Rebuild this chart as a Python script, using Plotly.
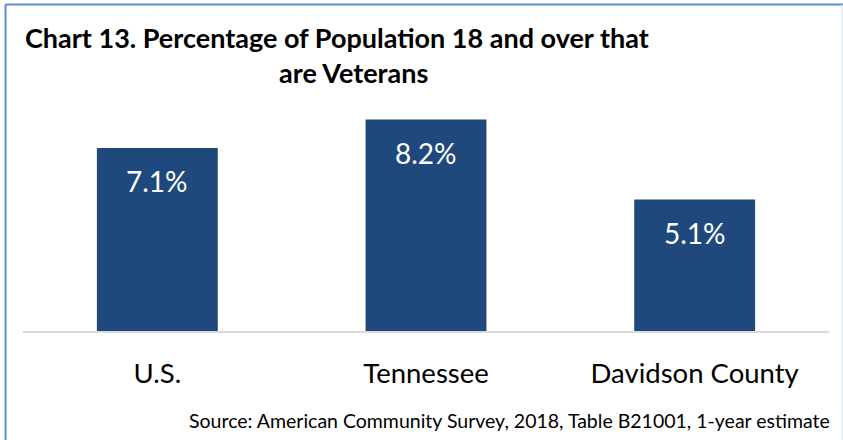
import plotly.graph_objects as go

# Data
categories = ["U.S.", "Tennessee", "Davidson County"]
veteran_pct = [7.1, 8.2, 5.1]
value_labels = [f"{v:.1f}%" for v in veteran_pct]

title_line1 = "Chart 13. Percentage of Population 18 and over that"
title_line2 = "are Veterans"
source_note = "Source: American Community Survey, 2018, Table B21001, 1-year estimate"

W, H = 843, 440
M_L, M_R, M_T, M_B = 23, 14, 99, 109
PW, PH = W - M_L - M_R, H - M_T - M_B

BAR_COLOR = "#1F497D"
FONT = "Lato"


def px_x(px):
    return (px - M_L) / PW


def px_y(py):
    return (H - M_B - py) / PH


fig = go.Figure(
    go.Bar(
        x=categories,
        y=veteran_pct,
        marker=dict(color=BAR_COLOR, line=dict(width=0)),
        width=0.45,
        hoverinfo="skip",
    )
)

annotations = []
for cat, val, lab in zip(categories, veteran_pct, value_labels):
    annotations.append(dict(
        x=cat, y=val, xref="x", yref="y", text=lab, showarrow=False,
        yanchor="top", yshift=-14,
        font=dict(family=FONT, size=28, color="white"),
    ))

annotations += [
    dict(x=px_x(23), y=px_y(38), xref="paper", yref="paper", text=f"<b>{title_line1}</b>",
         showarrow=False, xanchor="left", yanchor="middle",
         font=dict(family=FONT, size=27, color="black")),
    dict(x=px_x(277), y=px_y(72), xref="paper", yref="paper", text=f"<b>{title_line2}</b>",
         showarrow=False, xanchor="left", yanchor="middle",
         font=dict(family=FONT, size=27, color="black")),
    dict(x=px_x(832), y=px_y(420), xref="paper", yref="paper", text=source_note,
         showarrow=False, xanchor="right", yanchor="middle",
         font=dict(family=FONT, size=19.5, color="black")),
]

shapes = [
    # frame around the chart area
    dict(type="line", xref="paper", yref="paper", x0=px_x(5.5), x1=px_x(5.5),
         y0=px_y(4.5), y1=px_y(445), line=dict(color="#5B8BD0", width=2)),
    dict(type="line", xref="paper", yref="paper", x0=px_x(5.5), x1=px_x(845),
         y0=px_y(4.5), y1=px_y(4.5), line=dict(color="#5B8BD0", width=2)),
    dict(type="line", xref="paper", yref="paper", x0=px_x(842), x1=px_x(842),
         y0=px_y(4.5), y1=px_y(445), line=dict(color="#D6E0EE", width=1)),
]

fig.update_layout(
    width=W, height=H,
    margin=dict(l=M_L, r=M_R, t=M_T, b=M_B, pad=0),
    paper_bgcolor="white", plot_bgcolor="white",
    showlegend=False,
    annotations=annotations,
    shapes=shapes,
    xaxis=dict(
        showline=True, linecolor="#D9D9D9", linewidth=2,
        showgrid=False, zeroline=False, ticks="",
        tickfont=dict(family=FONT, size=27.5, color="black"),
        ticklabelstandoff=17,
        fixedrange=True,
    ),
    yaxis=dict(
        range=[0, 9], visible=False, showgrid=False, zeroline=False, fixedrange=True,
    ),
)

fig.write_html("out.html")
